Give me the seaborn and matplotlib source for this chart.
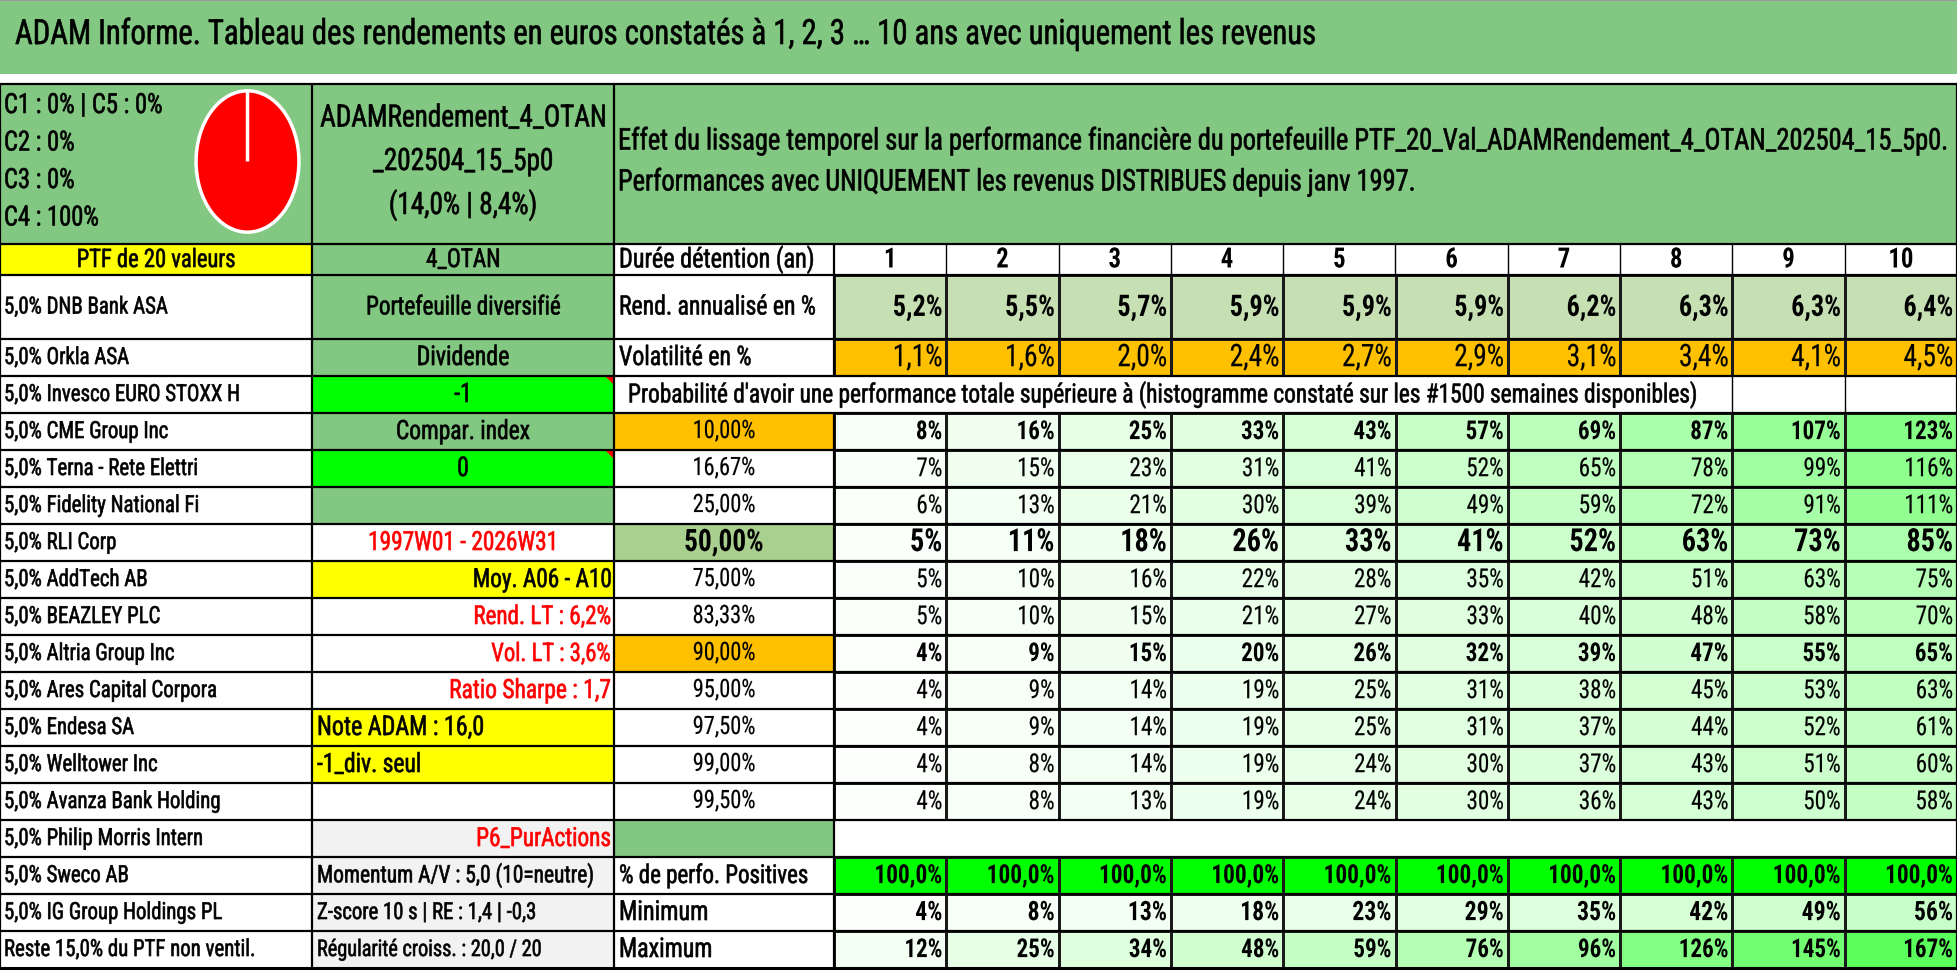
import numpy as np
import pandas as pd
import seaborn as sns
import matplotlib
matplotlib.use("Agg")
import matplotlib.pyplot as plt
from matplotlib import font_manager
from matplotlib.font_manager import FontProperties
from matplotlib.textpath import TextPath
from matplotlib.ft2font import FT2Font
from matplotlib.colors import LinearSegmentedColormap, ListedColormap
from matplotlib.patches import Rectangle, Polygon
from matplotlib.patheffects import AbstractPathEffect
from matplotlib.transforms import Affine2D

# ---------------- data ----------------
title = "ADAM Informe. Tableau des rendements en euros constatés à 1, 2, 3 … 10 ans avec uniquement les revenus"
class_labels = ["C1 : 0% | C5 : 0%", "C2 : 0%", "C3 : 0%", "C4 : 100%"]
class_shares = [0, 0, 0, 100, 0]          # C1, C2, C3, C4, C5
portfolio_name = ["ADAMRendement_4_OTAN", "_202504_15_5p0", "(14,0% | 8,4%)"]
panel_text = [
    "Effet du lissage temporel sur la performance financière du portefeuille PTF_20_Val_ADAMRendement_4_OTAN_202504_15_5p0.",
    "Performances avec UNIQUEMENT les revenus DISTRIBUES depuis janv 1997.",
]
ptf_header = "PTF de 20 valeurs"
ptf_code = "4_OTAN"
holdings = [
    "5,0% DNB Bank ASA", "5,0% Orkla ASA", "5,0% Invesco EURO STOXX H", "5,0% CME Group Inc",
    "5,0% Terna - Rete Elettri", "5,0% Fidelity National Fi", "5,0% RLI Corp", "5,0% AddTech AB",
    "5,0% BEAZLEY PLC", "5,0% Altria Group Inc", "5,0% Ares Capital Corpora", "5,0% Endesa SA",
    "5,0% Welltower Inc", "5,0% Avanza Bank Holding", "5,0% Philip Morris Intern", "5,0% Sweco AB",
    "5,0% IG Group Holdings PL", "Reste 15,0% du PTF non ventil.",
]
side_info = [
    "Portefeuille diversifié", "Dividende", "-1", "Compar. index", "0", "",
    "1997W01 - 2026W31", "Moy. A06 - A10", "Rend. LT : 6,2%", "Vol. LT : 3,6%",
    "Ratio Sharpe : 1,7", "Note ADAM : 16,0", "-1_div. seul", "", "P6_PurActions",
    "Momentum A/V : 5,0 (10=neutre)", "Z-score 10 s | RE : 1,4 | -0,3", "Régularité croiss. : 20,0 / 20",
]
years = [1, 2, 3, 4, 5, 6, 7, 8, 9, 10]
rend_annual = [5.2, 5.5, 5.7, 5.9, 5.9, 5.9, 6.2, 6.3, 6.3, 6.4]
volatility = [1.1, 1.6, 2.0, 2.4, 2.7, 2.9, 3.1, 3.4, 4.1, 4.5]
prob_title = ("Probabilité d'avoir une performance totale supérieure à "
              "(histogramme constaté sur les #1500 semaines disponibles)")
prob_levels = [10.00, 16.67, 25.00, 50.00, 75.00, 83.33, 90.00, 95.00, 97.50, 99.00, 99.50]
prob_perf = [
    [8, 16, 25, 33, 43, 57, 69, 87, 107, 123],
    [7, 15, 23, 31, 41, 52, 65, 78, 99, 116],
    [6, 13, 21, 30, 39, 49, 59, 72, 91, 111],
    [5, 11, 18, 26, 33, 41, 52, 63, 73, 85],
    [5, 10, 16, 22, 28, 35, 42, 51, 63, 75],
    [5, 10, 15, 21, 27, 33, 40, 48, 58, 70],
    [4, 9, 15, 20, 26, 32, 39, 47, 55, 65],
    [4, 9, 14, 19, 25, 31, 38, 45, 53, 63],
    [4, 9, 14, 19, 25, 31, 37, 44, 52, 61],
    [4, 8, 14, 19, 24, 30, 37, 43, 51, 60],
    [4, 8, 13, 19, 24, 30, 36, 43, 50, 58],
]
share_positive = [100.0, 100.0, 100.0, 100.0, 100.0, 100.0, 100.0, 100.0, 100.0, 100.0]
perf_min = [4, 8, 13, 18, 23, 29, 35, 42, 49, 56]
perf_max = [12, 25, 34, 48, 59, 76, 96, 126, 145, 167]
row_names_c = ["Durée détention (an)", "Rend. annualisé en %", "Volatilité en %",
               "% de perfo. Positives", "Minimum", "Maximum"]

# ---------------- style ----------------
GREEN = "#82C882"
LIME = "#00FF00"
ORANGE = "#FFC000"
YELLOW = "#FFFF00"
PALE = "#C6E0B4"
MID = "#A9D08E"
GREY = "#F2F2F2"
RED = "#FF0000"

# ink widths (px) of texts as they appear in the reference, used to size the fonts
label_px = [160, 123, 231, 163, 193, 192, 111, 143, 147, 170, 209, 128, 155, 214, 199, 124, 214, 248]
side_px = [192, 90, None, 132, None, None, 184, 136, 135, 118, 159, 164, 102, None, 132, 274, 217, 222]
c_px = [192, 194, 131, 187, 86, 90]

sns.set_theme(style="white")

# choose an installed condensed sans face (the reference uses a squeezed Calibri)
SAMPLE = "5,0% DNB Bank ASA"


def ink(fp, s):
    return TextPath((0, 0), s, size=100, prop=fp).get_extents()


ref_path = font_manager.findfont(FontProperties(family="DejaVu Sans", stretch="condensed"))
prefixes = ("DejaVu Sans", "Liberation Sans", "Noto Sans", "Roboto", "Open Sans", "Lato", "Inter")
okwords = {"Condensed", "SemiCondensed", "ExtraCondensed", "Semi", "Extra", "Narrow", "Display", ""}


def ratio_of(fname):
    fp = FontProperties(fname=fname)
    return ink(fp, SAMPLE).width / ink(fp, "H").height


best = ("DejaVu Sans", "condensed", ratio_of(ref_path))
target_ratio = 9.6
for f in font_manager.fontManager.ttflist:
    try:
        pre = [p for p in prefixes if f.name.startswith(p)]
        if not pre:
            continue
        rest = set(f.name[len(pre[0]):].split(" "))
        if not rest <= okwords or f.style != "normal":
            continue
        w = f.weight if isinstance(f.weight, int) else 400
        if w != 400:
            continue
        ft = FT2Font(f.fname)
        if ft.get_char_index(ord("é")) == 0 or ft.get_char_index(ord("%")) == 0:
            continue
        bold_ok = any(g.name == f.name and g.stretch == f.stretch and g.style == "normal"
                      and (g.weight if isinstance(g.weight, int) else 400) >= 600
                      for g in font_manager.fontManager.ttflist)
        if not bold_ok:
            continue
        r = ratio_of(f.fname)
        if abs(r - target_ratio) < abs(best[2] - target_ratio):
            best = (f.name, f.stretch, r)
    except Exception:
        continue

FAMILY = [best[0], "DejaVu Sans"]
plt.rcParams["font.family"] = FAMILY
plt.rcParams["font.stretch"] = best[1]


def fit(s, width_px, weight="normal"):
    """font size (pt at 100 dpi) giving the text an ink width of width_px."""
    fp = FontProperties(family=FAMILY, stretch=best[1], weight=weight)
    return width_px * 72.0 / ink(fp, s).width


class Tall(AbstractPathEffect):
    """Draw the glyphs a little taller (the reference font is tall and narrow) and heavier."""

    def __init__(self, sy=1.13, stroke=0.0):
        super().__init__()
        self.sy = sy
        self.stroke = stroke

    def draw_path(self, renderer, gc, tpath, affine, rgbFace=None):
        aff = Affine2D().scale(1.0, self.sy) + affine
        gc0 = renderer.new_gc()
        gc0.copy_properties(gc)
        if self.stroke and rgbFace is not None:
            gc0.set_linewidth(self.stroke)
            gc0.set_foreground(rgbFace)
        renderer.draw_path(gc0, tpath, aff, rgbFace)
        gc0.restore()


FX_NORMAL = [Tall(1.13, 0.45)]
FX_NUM = [Tall(1.13, 0.12)]
FX_BOLD = [Tall(1.13, 0.0)]

W, H = 1958, 979
fig = plt.figure(figsize=(W / 100, H / 100), dpi=100)
fig.patch.set_facecolor("white")


def frac(x0, y0, x1, y1):
    return [x0 / W, 1 - y1 / H, (x1 - x0) / W, (y1 - y0) / H]


def pixel_axes(z):
    ax = fig.add_axes([0, 0, 1, 1], zorder=z)
    ax.set_xlim(0, W)
    ax.set_ylim(H, 0)
    ax.axis("off")
    ax.patch.set_alpha(0)
    return ax


base = pixel_axes(0)
ov = pixel_axes(5)

# geometry
XA, XB, XC, XN, XR = 0, 312, 614, 834, 1957
CW = (XR - XN) / 10
Y_TB, Y_TOP, Y_HDR, Y_R1, Y_R2, RH = 75, 85, 245, 276, 340, 37
row_top = [Y_HDR, Y_R1] + [Y_R2 + i * RH for i in range(17)]
row_bot = row_top[1:] + [Y_R2 + 17 * RH]
Y_END = row_bot[-1]


def cy(r):
    return (row_top[r] + row_bot[r]) / 2 + 1


def rect(x0, y0, x1, y1, c):
    base.add_patch(Rectangle((x0, y0), x1 - x0, y1 - y0, facecolor=c, edgecolor="none"))


def txt(x, y, s, size, ha="left", color="black", weight="normal", fx=None):
    if fx is None:
        fx = FX_BOLD if weight == "bold" else FX_NORMAL
    ov.text(x, y, s, fontsize=size, ha=ha, va="center", color=color, fontweight=weight,
            path_effects=fx)


# ---------------- title band & top panel ----------------
rect(0, 0, W, Y_TB, GREEN)
ov.plot([0, W], [1, 1], color="#9a9a9a", lw=1.5)
txt(15, 36, title, fit(title, 1299))
rect(0, Y_TOP, XR, Y_HDR, GREEN)
s_cls = fit(class_labels[0], 156)
for k, s in enumerate(class_labels):
    txt(4, 107 + k * 37.5, s, s_cls)
ax_pie = fig.add_axes(frac(194, 89, 301, 236), zorder=3)
ax_pie.pie(class_shares, colors=[RED] * len(class_shares), startangle=90, counterclock=False,
           wedgeprops=dict(edgecolor="white", linewidth=2.5))
ax_pie.set_aspect("auto")
ax_pie.set_xlim(-1.04, 1.04)
ax_pie.set_ylim(-1.04, 1.04)
ax_pie.axis("off")
s_pn = fit(portfolio_name[0], 284)
for k, s in enumerate(portfolio_name):
    txt((XB + XC) / 2, 120 + k * 43.5, s, s_pn, ha="center")
s_panel = fit(panel_text[0], 1326)
for k, s in enumerate(panel_text):
    txt(XC + 4, 143 + k * 41, s, s_panel)

# ---------------- header row ----------------
rect(XA, Y_HDR, XB, Y_R1, YELLOW)
rect(XB, Y_HDR, XC, Y_R1, GREEN)
txt((XA + XB) / 2, cy(0), ptf_header, fit(ptf_header, 156), ha="center")
txt((XB + XC) / 2, cy(0), ptf_code, fit(ptf_code, 72), ha="center")
txt(XC + 5, cy(0), row_names_c[0], fit(row_names_c[0], c_px[0]))
s_years = fit("10", 22, "bold")
for j, yv in enumerate(years):
    txt(XN + (j + 0.5) * CW, cy(0), str(yv), s_years, ha="center", weight="bold")

# ---------------- holdings & side info ----------------
side_bg = [GREEN, GREEN, LIME, GREEN, LIME, GREEN, "white", YELLOW, "white", "white",
           "white", YELLOW, YELLOW, "white", GREY, GREY, GREY, GREY]
side_ha = ["center"] * 7 + ["right"] * 4 + ["left"] * 2 + ["center", "right"] + ["left"] * 3
side_col = ["black"] * 6 + [RED, "black", RED, RED, RED, "black", "black", "black", RED,
                             "black", "black", "black"]
s_lab = float(np.median([fit(s, w) for s, w in zip(holdings, label_px)]))
s_side_default = fit(side_info[1], side_px[1])
for i, name in enumerate(holdings):
    r = i + 1
    txt(XA + 4, cy(r), name, min(s_lab, fit(name, XB - 12)))
    rect(XB, row_top[r], XC, row_bot[r], side_bg[i])
    xpos = {"center": (XB + XC) / 2, "right": XC - 3, "left": XB + 5}[side_ha[i]]
    if side_info[i]:
        sz = fit(side_info[i], side_px[i]) if side_px[i] else s_side_default
        txt(xpos, cy(r), side_info[i], sz, ha=side_ha[i], color=side_col[i])
for r in (3, 5):
    ov.add_patch(Polygon([(XC - 9, row_top[r]), (XC, row_top[r]), (XC, row_top[r] + 9)],
                         closed=True, facecolor=RED, edgecolor="none"))

# ---------------- column C labels ----------------
txt(XC + 5, cy(1), row_names_c[1], fit(row_names_c[1], c_px[1]))
txt(XC + 5, cy(2), row_names_c[2], fit(row_names_c[2], c_px[2]))
txt(XC + 14, cy(3), prob_title, fit(prob_title, 1066))
level_bg = {10.00: ORANGE, 50.00: MID, 90.00: ORANGE}
s_lv = fit("16,67%", 60)
s_lv_big = fit("50,00%", 77, "bold")
for k, lv in enumerate(prob_levels):
    r = 4 + k
    if lv in level_bg:
        rect(XC, row_top[r], XN, row_bot[r], level_bg[lv])
    big = lv == 50.00
    txt((XC + XN) / 2, cy(r), f"{lv:.2f}%".replace(".", ","), s_lv_big if big else s_lv,
        ha="center", weight="bold" if big else "normal", fx=None if big else FX_NUM)
rect(XC, row_top[15], XN, row_bot[15], GREEN)
for k in range(3):
    txt(XC + 5, cy(16 + k), row_names_c[3 + k], fit(row_names_c[3 + k], c_px[3 + k]))

# ---------------- numeric blocks via seaborn heatmaps ----------------
greens = LinearSegmentedColormap.from_list("wg", ["#FFFFFF", LIME])


def heat(values, r0, r1, cmap, vmin, vmax):
    ax = fig.add_axes(frac(XN, row_top[r0], XR, row_bot[r1]), zorder=2)
    df = pd.DataFrame(np.atleast_2d(values), columns=years)
    sns.heatmap(df, ax=ax, cmap=cmap, vmin=vmin, vmax=vmax, cbar=False,
                linewidths=0.8, linecolor="#1a1a1a", xticklabels=False, yticklabels=False)
    ax.set_xlabel("")
    ax.set_ylabel("")
    return ax, df


def annotate(ax, df, fmt, sizes, weights):
    for i in range(df.shape[0]):
        for j in range(df.shape[1]):
            ax.text(j + 0.965, i + 0.53, fmt(df.iat[i, j]), ha="right", va="center",
                    fontsize=sizes[i], fontweight=weights[i], color="black",
                    path_effects=FX_BOLD if weights[i] == "bold" else FX_NUM)


pct1 = lambda v: f"{v:.1f}%".replace(".", ",")
pct0 = lambda v: f"{v:.0f}%"

ax_r, df_r = heat(rend_annual, 1, 1, ListedColormap([PALE]), 0, 100)
annotate(ax_r, df_r, pct1, [0.95 * fit("5,2%", 50, "bold")], ["bold"])
ax_v, df_v = heat(volatility, 2, 2, ListedColormap([ORANGE]), 0, 100)
annotate(ax_v, df_v, pct1, [0.93 * fit("1,1%", 50)], ["normal"])
ax_p, df_p = heat(prob_perf, 4, 14, greens, 0, 260)
s_pn_norm = fit("116%", 46)
s_pn_bold = fit("123%", 47, "bold")
s_pn_big = fit("85%", 44, "bold")
p_sizes = [s_pn_big if lv == 50.00 else (s_pn_bold if lv in level_bg else s_pn_norm)
           for lv in prob_levels]
p_weights = ["bold" if lv in level_bg else "normal" for lv in prob_levels]
annotate(ax_p, df_p, pct0, p_sizes, p_weights)
ax_s, df_s = heat(share_positive, 16, 16, ListedColormap([LIME]), 0, 100)
annotate(ax_s, df_s, pct1, [fit("100,0%", 65, "bold")], ["bold"])
ax_mn, df_mn = heat(perf_min, 17, 17, greens, 0, 260)
annotate(ax_mn, df_mn, pct0, [fit("56%", 37, "bold")], ["bold"])
ax_mx, df_mx = heat(perf_max, 18, 18, greens, 0, 260)
annotate(ax_mx, df_mx, pct0, [fit("167%", 47, "bold")], ["bold"])

# ---------------- grid lines ----------------
LW = 1.6
ov.plot([0, XR], [Y_TOP, Y_TOP], color="black", lw=LW)
for r in range(len(row_top)):
    ov.plot([0, XR], [row_top[r], row_top[r]], color="black", lw=LW)
ov.plot([0, XR], [Y_END, Y_END], color="black", lw=LW + 0.6)
for x in (0, XB, XC, XR):
    ov.plot([x, x], [Y_TOP, Y_END], color="black", lw=LW)
ov.plot([XN, XN], [Y_HDR, row_top[3]], color="black", lw=LW)
ov.plot([XN, XN], [row_top[4], Y_END], color="black", lw=LW)
for j in range(1, 10):
    x = XN + j * CW
    ov.plot([x, x], [Y_HDR, Y_R1], color="black", lw=1.0)
    if j >= 8:
        ov.plot([x, x], [row_top[3], row_bot[3]], color="black", lw=1.0)

fig.savefig("out.png", dpi=100, facecolor="white")
